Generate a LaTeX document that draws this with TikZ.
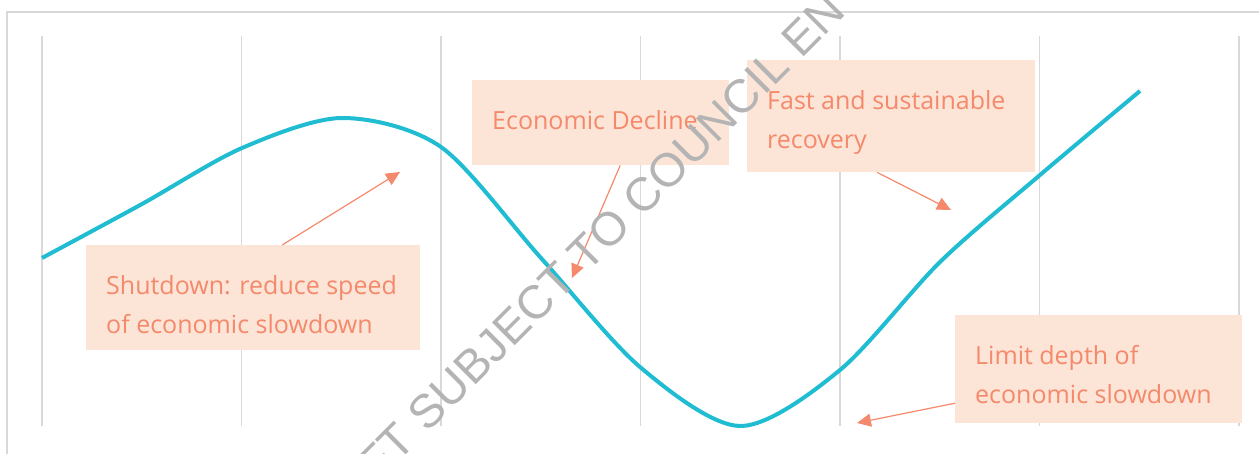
\documentclass[tikz,border=0pt]{standalone}
\usepackage{fontspec}
\setmainfont{Open Sans}
\newfontfamily\markfont{Liberation Sans}
\usetikzlibrary{arrows.meta}
\definecolor{boxfill}{HTML}{FCE4D6}
\definecolor{notecolor}{HTML}{F4896B}
\definecolor{curvecolor}{HTML}{1FBCD2}
\definecolor{gridcolor}{HTML}{D9D9D9}
\definecolor{markcolor}{HTML}{B4B4B4}

\begin{document}
\begin{tikzpicture}[x=1pt, y=-1pt,
	labelbox/.style={fill=boxfill, anchor=north west, inner sep=0pt},
	labeltext/.style={anchor=north west, align=left, inner sep=0pt, text=notecolor, font=\fontsize{25}{39.5}\selectfont},
	pointer/.style={draw=notecolor, line width=1.2pt, -{Triangle[length=14pt, width=13pt]}}]
	\useasboundingbox (0,0) rectangle (1259,454);
	\clip (0,0) rectangle (1259,454);
	\draw[gridcolor, line width=1.5pt] (7,12) rectangle (1280,480);
	\foreach \x in {42,241.5,441,640.5,840,1039.5,1239}
	  \draw[gridcolor, line width=1.5pt] (\x,36) -- (\x,426);
	\draw[curvecolor, line width=4pt] plot[smooth, tension=0.5] coordinates {(42,258) (142,204) (242,148) (342,118) (441,147) (541,258) (640,367) (740,426) (840,370) (940,262) (1040,175) (1140,91)};
	\node[labelbox, minimum width=334pt, minimum height=105pt] (shutdown) at (86,245) {};
	\node[labeltext] (shutdowntext) at ([shift={(20,30)}]shutdown.north west) {Shutdown: reduce speed\\of economic slowdown};
	\node[labelbox, minimum width=257pt, minimum height=85pt] (decline) at (472,80) {};
	\node[labeltext] (declinetext) at ([shift={(20,30)}]decline.north west) {Economic Decline};
	\node[labelbox, minimum width=288pt, minimum height=112pt] (fast) at (747,60) {};
	\node[labeltext] (fasttext) at ([shift={(20,30)}]fast.north west) {Fast and sustainable\\recovery};
	\node[labelbox, minimum width=287pt, minimum height=108pt] (limit) at (955,315) {};
	\node[labeltext] (limittext) at ([shift={(20,30)}]limit.north west) {Limit depth of\\economic slowdown};
	\coordinate (shutdowntip) at (400,172);
	\coordinate (declinetip) at (572,278);
	\coordinate (fasttip) at (951,210);
	\coordinate (limittip) at (857,423);
	\draw[pointer] ([xshift=29pt]shutdown.north) -- (shutdowntip);
	\draw[pointer] ([xshift=19.5pt]decline.south) -- (declinetip);
	\draw[pointer] ([xshift=-14pt]fast.south) -- (fasttip);
	\draw[pointer] ([yshift=-34pt]limit.west) -- (limittip);
	\node[text=markcolor, font=\markfont\fontsize{47}{47}\selectfont, rotate=45, inner sep=0pt] (watermark) at (601,237) {FT SUBJECT TO COUNCIL EN};
\end{tikzpicture}
\end{document}
